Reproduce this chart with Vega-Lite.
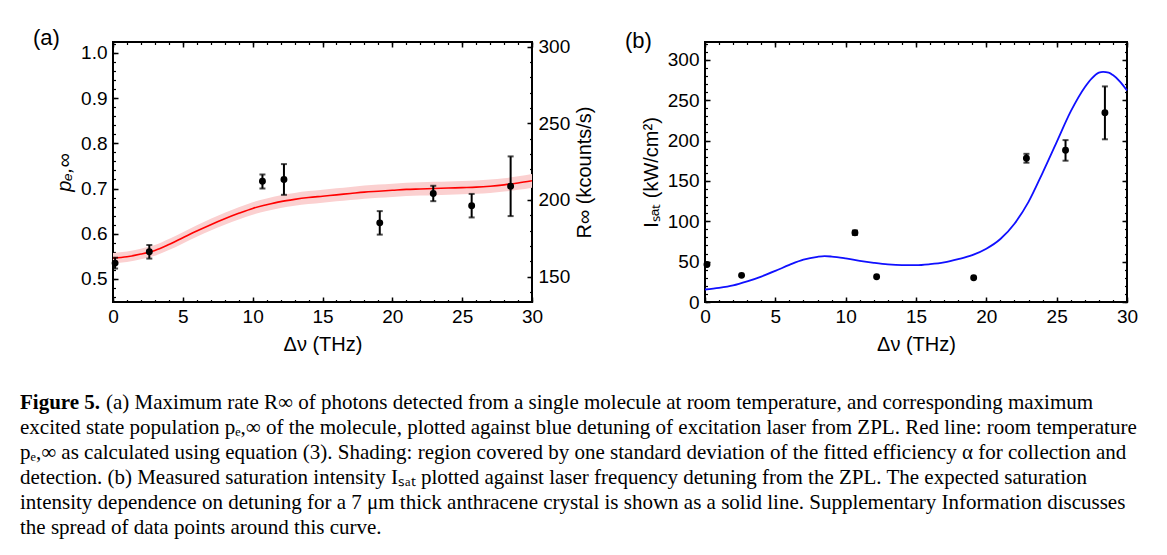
{
  "$schema": "https://vega.github.io/schema/vega-lite/v6.json",
  "background": "white",
  "padding": {"left": 20, "top": 25, "right": 5, "bottom": 5},
  "datasets": {
    "curveA": [
      {"x": 0, "p": 0.546, "lo": 0.5345, "hi": 0.5575},
      {"x": 1, "p": 0.549, "lo": 0.5375, "hi": 0.5605},
      {"x": 2, "p": 0.555, "lo": 0.5433, "hi": 0.5667},
      {"x": 3, "p": 0.563, "lo": 0.5512, "hi": 0.5748},
      {"x": 4, "p": 0.576, "lo": 0.5639, "hi": 0.5881},
      {"x": 5, "p": 0.591, "lo": 0.5786, "hi": 0.6034},
      {"x": 6, "p": 0.606, "lo": 0.5933, "hi": 0.6187},
      {"x": 7, "p": 0.620, "lo": 0.6070, "hi": 0.6330},
      {"x": 8, "p": 0.633, "lo": 0.6197, "hi": 0.6463},
      {"x": 9, "p": 0.645, "lo": 0.6315, "hi": 0.6585},
      {"x": 10, "p": 0.656, "lo": 0.6422, "hi": 0.6698},
      {"x": 11, "p": 0.664, "lo": 0.6501, "hi": 0.6779},
      {"x": 12, "p": 0.671, "lo": 0.6569, "hi": 0.6851},
      {"x": 13, "p": 0.676, "lo": 0.6618, "hi": 0.6902},
      {"x": 14, "p": 0.680, "lo": 0.6657, "hi": 0.6943},
      {"x": 15, "p": 0.683, "lo": 0.6687, "hi": 0.6973},
      {"x": 16, "p": 0.686, "lo": 0.6716, "hi": 0.7004},
      {"x": 17, "p": 0.689, "lo": 0.6745, "hi": 0.7035},
      {"x": 18, "p": 0.692, "lo": 0.6775, "hi": 0.7065},
      {"x": 19, "p": 0.694, "lo": 0.6794, "hi": 0.7086},
      {"x": 20, "p": 0.696, "lo": 0.6814, "hi": 0.7106},
      {"x": 21, "p": 0.698, "lo": 0.6833, "hi": 0.7127},
      {"x": 22, "p": 0.699, "lo": 0.6843, "hi": 0.7137},
      {"x": 23, "p": 0.700, "lo": 0.6853, "hi": 0.7147},
      {"x": 24, "p": 0.701, "lo": 0.6863, "hi": 0.7157},
      {"x": 25, "p": 0.702, "lo": 0.6873, "hi": 0.7167},
      {"x": 26, "p": 0.703, "lo": 0.6882, "hi": 0.7178},
      {"x": 27, "p": 0.705, "lo": 0.6902, "hi": 0.7198},
      {"x": 28, "p": 0.708, "lo": 0.6931, "hi": 0.7229},
      {"x": 29, "p": 0.712, "lo": 0.6970, "hi": 0.7270},
      {"x": 30, "p": 0.717, "lo": 0.7019, "hi": 0.7321}
    ],
    "ptsA": [
      {"x": 0.15, "p": 0.535, "lo": 0.523, "hi": 0.547},
      {"x": 2.6, "p": 0.560, "lo": 0.545, "hi": 0.575},
      {"x": 10.7, "p": 0.716, "lo": 0.700, "hi": 0.731},
      {"x": 12.24, "p": 0.720, "lo": 0.686, "hi": 0.754},
      {"x": 19.1, "p": 0.624, "lo": 0.598, "hi": 0.650},
      {"x": 22.93, "p": 0.689, "lo": 0.672, "hi": 0.706},
      {"x": 25.68, "p": 0.662, "lo": 0.636, "hi": 0.688},
      {"x": 28.47, "p": 0.705, "lo": 0.639, "hi": 0.771}
    ],
    "curveB": [
      {"x": 0, "I": 15.5}, {"x": 1, "I": 17.5}, {"x": 2, "I": 20.5}, {"x": 3, "I": 25.5},
      {"x": 4, "I": 31.5}, {"x": 5, "I": 38.5}, {"x": 6, "I": 46}, {"x": 7, "I": 52.5},
      {"x": 8, "I": 56}, {"x": 8.5, "I": 56.8}, {"x": 9, "I": 56.3}, {"x": 10, "I": 54},
      {"x": 11, "I": 51}, {"x": 12, "I": 48.5}, {"x": 13, "I": 46.5}, {"x": 14, "I": 45.6},
      {"x": 15, "I": 45.6}, {"x": 16, "I": 46.8}, {"x": 17, "I": 49}, {"x": 18, "I": 53},
      {"x": 19, "I": 58}, {"x": 20, "I": 66}, {"x": 21, "I": 78}, {"x": 22, "I": 97},
      {"x": 23, "I": 124}, {"x": 24, "I": 160}, {"x": 25, "I": 198}, {"x": 26, "I": 236},
      {"x": 27, "I": 266}, {"x": 27.5, "I": 277}, {"x": 28, "I": 284}, {"x": 28.3, "I": 285},
      {"x": 28.7, "I": 284}, {"x": 29, "I": 281}, {"x": 29.5, "I": 273}, {"x": 30, "I": 262}
    ],
    "ptsB": [
      {"x": 0.14, "I": 46.5},
      {"x": 2.6, "I": 33},
      {"x": 10.66, "I": 85.7, "lo": 83, "hi": 88.5},
      {"x": 12.2, "I": 31.3},
      {"x": 19.1, "I": 30.1},
      {"x": 22.85, "I": 178, "lo": 172.5, "hi": 183.5},
      {"x": 25.63, "I": 188, "lo": 175, "hi": 200.5},
      {"x": 28.43, "I": 234.5, "lo": 201.5, "hi": 267}
    ],
    "captionBold": [
      {"line": 1, "text": "Figure 5."}
    ],
    "captionFirst": [
      {"line": 1, "text": "(a) Maximum rate R∞ of photons detected from a single molecule at room temperature, and corresponding maximum"}
    ],
    "caption": [
      {"line": 2, "text": "excited state population  pₑ,∞ of the molecule, plotted against blue detuning of excitation laser from ZPL. Red line: room temperature"},
      {"line": 3, "text": "pₑ,∞ as calculated using equation (3). Shading: region covered by one standard deviation of the fitted efficiency α for collection and"},
      {"line": 4, "text": "detection. (b) Measured saturation intensity Iₛₐₜ plotted against laser frequency detuning from the ZPL. The expected saturation"},
      {"line": 5, "text": "intensity dependence on detuning for a 7  μm thick anthracene crystal is shown as a solid line. Supplementary Information discusses"},
      {"line": 6, "text": "the spread of data points around this curve."}
    ]
  },
  "config": {
    "font": "Liberation Sans",
    "view": {"stroke": "black", "strokeWidth": 2},
    "axis": {
      "grid": false, "domain": false, "labelFlush": false, "labelOverlap": false,
      "labelFont": "Liberation Sans", "labelFontSize": 19, "labelColor": "black",
      "tickColor": "black", "tickWidth": 1.5,
      "titleFont": "Liberation Sans", "titleFontSize": 20, "titleFontWeight": "normal", "titleColor": "black"
    },
    "title": {"font": "Liberation Sans", "fontSize": 22, "fontWeight": "normal", "color": "black"}
  },
  "vconcat": [
    {
      "hconcat": [
        {
          "width": 419, "height": 260,
          "title": {"text": "(a)", "orient": "top", "anchor": "start", "frame": "group", "dx": -80, "offset": -12},
          "layer": [
            {
              "data": {"name": "curveA"},
              "mark": {"type": "area", "color": "#fbd0d0", "opacity": 1, "interpolate": "monotone"},
              "encoding": {
                "x": {"field": "x", "type": "quantitative", "scale": {"domain": [0, 30], "nice": false, "zero": false},
                      "axis": {"orient": "bottom", "values": [0, 5, 10, 15, 20, 25, 30], "tickSize": -5, "labelPadding": 10.5, "title": "Δν (THz)", "titlePadding": 8}},
                "y": {"field": "lo", "type": "quantitative", "scale": {"domain": [0.449, 1.024], "nice": false, "zero": false},
                      "axis": {"orient": "left", "values": [0.5, 0.6, 0.7, 0.8, 0.9, 1.0], "format": ".1f", "tickSize": -5, "labelPadding": 11, "title": "pₑ,∞", "titleFontStyle": "italic", "titlePadding": 6}},
                "y2": {"field": "hi"}
              }
            },
            {
              "data": {"name": "curveA"},
              "mark": {"type": "line", "color": "#ff0000", "strokeWidth": 1.6, "interpolate": "monotone"},
              "encoding": {
                "x": {"field": "x", "type": "quantitative",
                      "axis": {"orient": "bottom", "values": [0,1,2,3,4,5,6,7,8,9,10,11,12,13,14,15,16,17,18,19,20,21,22,23,24,25,26,27,28,29,30], "labels": false, "tickSize": -2.5, "tickWidth": 1.2, "title": null}},
                "y": {"field": "p", "type": "quantitative", "scale": {"domain": [0.449, 1.024], "nice": false, "zero": false},
                      "axis": {"orient": "left", "values": [0.46,0.48,0.5,0.52,0.54,0.56,0.58,0.6,0.62,0.64,0.66,0.68,0.7,0.72,0.74,0.76,0.78,0.8,0.82,0.84,0.86,0.88,0.9,0.92,0.94,0.96,0.98,1.0,1.02], "labels": false, "tickSize": -2.5, "tickWidth": 1.2, "title": null}}
              }
            },
            {
              "data": {"name": "ptsA"},
              "mark": {"type": "rule", "color": "black", "strokeWidth": 2},
              "encoding": {
                "x": {"field": "x", "type": "quantitative",
                      "axis": {"orient": "top", "values": [0, 5, 10, 15, 20, 25, 30], "labels": false, "tickSize": -5, "title": null}},
                "y": {"field": "lo", "type": "quantitative", "scale": {"domain": [0.449, 1.024], "nice": false, "zero": false}, "axis": null},
                "y2": {"field": "hi"}
              }
            },
            {
              "data": {"name": "ptsA"},
              "transform": [{"fold": ["lo", "hi"], "as": ["end", "yv"]}],
              "mark": {"type": "tick", "orient": "horizontal", "color": "black", "size": 6, "thickness": 2},
              "encoding": {
                "x": {"field": "x", "type": "quantitative",
                      "axis": {"orient": "top", "values": [0,1,2,3,4,5,6,7,8,9,10,11,12,13,14,15,16,17,18,19,20,21,22,23,24,25,26,27,28,29,30], "labels": false, "tickSize": -2.5, "tickWidth": 1.2, "title": null}},
                "y": {"field": "yv", "type": "quantitative", "scale": {"domain": [0.449, 1.024], "nice": false, "zero": false}, "axis": null}
              }
            },
            {
              "data": {"name": "ptsA"},
              "mark": {"type": "circle", "color": "black", "opacity": 1, "size": 48},
              "encoding": {
                "x": {"field": "x", "type": "quantitative", "axis": null},
                "y": {"field": "p", "type": "quantitative", "scale": {"domain": [0.449, 1.024], "nice": false, "zero": false}, "axis": null}
              }
            },
            {
              "data": {"name": "ptsA"},
              "mark": {"type": "point", "opacity": 0},
              "encoding": {
                "x": {"field": "x", "type": "quantitative", "axis": null},
                "y": {"datum": 200, "type": "quantitative", "scale": {"domain": [133.5, 303], "nice": false, "zero": false},
                      "axis": {"orient": "right", "values": [150, 200, 250, 300], "tickSize": -5, "labelPadding": 11, "title": "R∞  (kcounts/s)", "titleAngle": 270, "titlePadding": 25}}
              }
            },
            {
              "data": {"name": "ptsA"},
              "mark": {"type": "point", "opacity": 0},
              "encoding": {
                "x": {"field": "x", "type": "quantitative", "axis": null},
                "y": {"datum": 200, "type": "quantitative", "scale": {"domain": [133.5, 303], "nice": false, "zero": false},
                      "axis": {"orient": "right", "values": [140,150,160,170,180,190,200,210,220,230,240,250,260,270,280,290,300], "labels": false, "tickSize": -2.5, "tickWidth": 1.2, "title": null}}
              }
            }
          ],
          "resolve": {"scale": {"y": "independent"}, "axis": {"x": "independent", "y": "independent"}}
        },
        {
          "width": 422, "height": 260,
          "title": {"text": "(b)", "orient": "top", "anchor": "start", "frame": "group", "dx": -80, "offset": -12},
          "layer": [
            {
              "data": {"name": "curveB"},
              "mark": {"type": "line", "color": "#1010ff", "strokeWidth": 1.8, "interpolate": "monotone"},
              "encoding": {
                "x": {"field": "x", "type": "quantitative", "scale": {"domain": [0, 30], "nice": false, "zero": false},
                      "axis": {"orient": "bottom", "values": [0, 5, 10, 15, 20, 25, 30], "tickSize": -5, "labelPadding": 10.5, "title": "Δν (THz)", "titlePadding": 8}},
                "y": {"field": "I", "type": "quantitative", "scale": {"domain": [0, 322], "nice": false, "zero": false},
                      "axis": {"orient": "left", "values": [0, 50, 100, 150, 200, 250, 300], "tickSize": -5, "labelPadding": 11, "title": "Iₛₐₜ  (kW/cm²)", "titlePadding": 6}}
              }
            },
            {
              "data": {"name": "ptsB"},
              "transform": [{"filter": "isValid(datum.lo)"}],
              "mark": {"type": "rule", "color": "black", "strokeWidth": 2},
              "encoding": {
                "x": {"field": "x", "type": "quantitative",
                      "axis": {"orient": "bottom", "values": [0,1,2,3,4,5,6,7,8,9,10,11,12,13,14,15,16,17,18,19,20,21,22,23,24,25,26,27,28,29,30], "labels": false, "tickSize": -2.5, "tickWidth": 1.2, "title": null}},
                "y": {"field": "lo", "type": "quantitative",
                      "axis": {"orient": "left", "values": [0,10,20,30,40,50,60,70,80,90,100,110,120,130,140,150,160,170,180,190,200,210,220,230,240,250,260,270,280,290,300,310,320], "labels": false, "tickSize": -2.5, "tickWidth": 1.2, "title": null}},
                "y2": {"field": "hi"}
              }
            },
            {
              "data": {"name": "ptsB"},
              "transform": [{"filter": "isValid(datum.lo)"}, {"fold": ["lo", "hi"], "as": ["end", "yv"]}],
              "mark": {"type": "tick", "orient": "horizontal", "color": "black", "size": 6, "thickness": 2},
              "encoding": {
                "x": {"field": "x", "type": "quantitative",
                      "axis": {"orient": "top", "values": [0, 5, 10, 15, 20, 25, 30], "labels": false, "tickSize": -5, "title": null}},
                "y": {"field": "yv", "type": "quantitative",
                      "axis": {"orient": "right", "values": [0, 50, 100, 150, 200, 250, 300], "labels": false, "tickSize": -5, "title": null}}
              }
            },
            {
              "data": {"name": "ptsB"},
              "mark": {"type": "circle", "color": "black", "opacity": 1, "size": 48},
              "encoding": {
                "x": {"field": "x", "type": "quantitative",
                      "axis": {"orient": "top", "values": [0,1,2,3,4,5,6,7,8,9,10,11,12,13,14,15,16,17,18,19,20,21,22,23,24,25,26,27,28,29,30], "labels": false, "tickSize": -2.5, "tickWidth": 1.2, "title": null}},
                "y": {"field": "I", "type": "quantitative",
                      "axis": {"orient": "right", "values": [0,10,20,30,40,50,60,70,80,90,100,110,120,130,140,150,160,170,180,190,200,210,220,230,240,250,260,270,280,290,300,310,320], "labels": false, "tickSize": -2.5, "tickWidth": 1.2, "title": null}}
              }
            }
          ],
          "resolve": {"axis": {"x": "independent", "y": "independent"}}
        }
      ],
      "bounds": "flush",
      "spacing": 173
    },
    {
      "width": 1100,
      "height": {"step": 25},
      "view": {"stroke": null},
      "layer": [
        {
          "data": {"name": "captionBold"},
          "mark": {"type": "text", "align": "left", "baseline": "middle", "font": "Liberation Serif", "fontSize": 21, "fontWeight": "bold", "dx": -93},
          "encoding": {
            "x": {"datum": 0, "type": "quantitative", "scale": {"domain": [0, 1]}, "axis": null},
            "y": {"field": "line", "type": "ordinal", "axis": null},
            "text": {"field": "text"}
          }
        },
        {
          "data": {"name": "captionFirst"},
          "mark": {"type": "text", "align": "left", "baseline": "middle", "font": "Liberation Serif", "fontSize": 21, "dx": -7},
          "encoding": {
            "x": {"datum": 0, "type": "quantitative", "axis": null},
            "y": {"field": "line", "type": "ordinal", "axis": null},
            "text": {"field": "text"}
          }
        },
        {
          "data": {"name": "caption"},
          "mark": {"type": "text", "align": "left", "baseline": "middle", "font": "Liberation Serif", "fontSize": 21, "dx": -93},
          "encoding": {
            "x": {"datum": 0, "type": "quantitative", "axis": null},
            "y": {"field": "line", "type": "ordinal", "axis": null},
            "text": {"field": "text"}
          }
        }
      ]
    }
  ],
  "bounds": "flush",
  "spacing": 348.5
}
